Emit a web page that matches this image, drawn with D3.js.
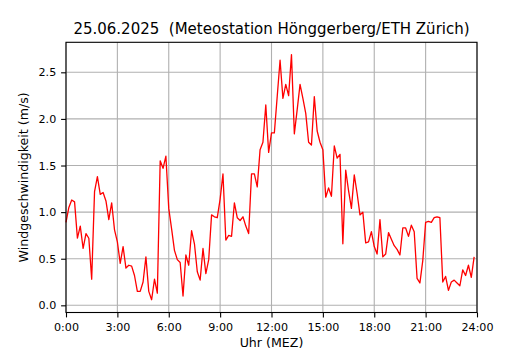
<!DOCTYPE html>
<html>
<head>
<meta charset="utf-8">
<script src="https://cdn.jsdelivr.net/npm/d3@7"></script>
<style>
  html, body { margin: 0; padding: 0; background: #fff; }
  svg { display: block; font-family: "DejaVu Sans", sans-serif; }
</style>
</head>
<body>
<svg id="chart" width="530" height="350"></svg>
<script>
// ---- Data (10-minute wind speed, m/s) ----
const titleText = "25.06.2025  (Meteostation Hönggerberg/ETH Zürich)";
const xLabel = "Uhr (MEZ)";
const yLabel = "Windgeschwindigkeit (m/s)";
const stepMinutes = 10;
const windSpeed = [
  0.89, 1.05, 1.13, 1.11, 0.72, 0.85, 0.61, 0.77, 0.72, 0.28, 1.22, 1.38,
  1.19, 1.21, 1.12, 0.92, 1.10, 0.81, 0.68, 0.45, 0.63, 0.40, 0.43, 0.42,
  0.32, 0.15, 0.15, 0.25, 0.52, 0.15, 0.06, 0.28, 0.13, 1.55, 1.47, 1.60,
  1.04, 0.82, 0.59, 0.49, 0.46, 0.10, 0.54, 0.43, 0.80, 0.66, 0.36, 0.27,
  0.61, 0.34, 0.49, 0.97, 0.95, 0.94, 1.14, 1.41, 0.70, 0.75, 0.74, 1.10,
  0.94, 0.91, 0.95, 0.85, 0.77, 1.41, 1.41, 1.27, 1.67, 1.75, 2.15, 1.64,
  1.85, 1.85, 2.24, 2.63, 2.22, 2.37, 2.25, 2.69, 1.84, 2.10, 2.37, 2.22,
  2.06, 1.75, 1.72, 2.24, 1.87, 1.75, 1.67, 1.16, 1.26, 1.17, 1.71, 1.58,
  1.62, 0.66, 1.45, 1.23, 1.04, 1.40, 1.20, 0.97, 1.00, 0.67, 0.68, 0.79,
  0.63, 0.55, 0.92, 0.52, 0.55, 0.78, 0.71, 0.64, 0.60, 0.54, 0.83, 0.83,
  0.74, 0.86, 0.79, 0.29, 0.24, 0.48, 0.89, 0.90, 0.89, 0.94, 0.95, 0.94,
  0.25, 0.31, 0.16, 0.25, 0.27, 0.24, 0.21, 0.38, 0.32, 0.43, 0.30, 0.52
];
const xTickHours = [0, 3, 6, 9, 12, 15, 18, 21, 24];
const xTickLabels = ["0:00", "3:00", "6:00", "9:00", "12:00", "15:00", "18:00", "21:00", "24:00"];
const yTicks = [0.0, 0.5, 1.0, 1.5, 2.0, 2.5];
const yDomain = [-0.077, 2.822];

// ---- Layout ----
const svg = d3.select("#chart");
const margin = { left: 66, right: 53, top: 42.3, bottom: 37.5 };
const W = 530, H = 350;
const iw = W - margin.left - margin.right;
const ih = H - margin.top - margin.bottom;

svg.append("rect").attr("width", W).attr("height", H).attr("fill", "#fff");

const g = svg.append("g").attr("transform", `translate(${margin.left},${margin.top})`);

const x = d3.scaleLinear().domain([0, 24]).range([0, iw]);
const y = d3.scaleLinear().domain(yDomain).range([ih, 0]);

const data = windSpeed.map((v, i) => ({ h: i * stepMinutes / 60, v }));

// Grid
g.append("g").selectAll("line").data(xTickHours).join("line")
  .attr("x1", d => x(d)).attr("x2", d => x(d))
  .attr("y1", 0).attr("y2", ih)
  .attr("stroke", "#b0b0b0").attr("stroke-width", 1.1);
g.append("g").selectAll("line").data(yTicks).join("line")
  .attr("x1", 0).attr("x2", iw)
  .attr("y1", d => y(d)).attr("y2", d => y(d))
  .attr("stroke", "#b0b0b0").attr("stroke-width", 1.1);

// Line
g.append("path").datum(data)
  .attr("fill", "none")
  .attr("stroke", "#ff0000")
  .attr("stroke-width", 1.3)
  .attr("stroke-linejoin", "round")
  .attr("d", d3.line().x(d => x(d.h)).y(d => y(d.v)));

// Axes
const xAxis = d3.axisBottom(x).tickValues(xTickHours)
  .tickFormat((d, i) => xTickLabels[i]).tickSize(4.9).tickPadding(5.5);
const yAxis = d3.axisLeft(y).tickValues(yTicks)
  .tickFormat(d3.format(".1f")).tickSize(4.9).tickPadding(4.9);

const gx = g.append("g").attr("transform", `translate(0,${ih})`).call(xAxis);
const gy = g.append("g").call(yAxis);
[gx, gy].forEach(a => {
  a.select(".domain").remove();
  a.selectAll(".tick line").attr("stroke", "#000").attr("stroke-width", 1.1);
  a.selectAll(".tick text").attr("fill", "#000")
    .style("font-family", "DejaVu Sans").style("font-size", "11.1px");
});

// Spines
g.append("rect").attr("x", 0).attr("y", 0).attr("width", iw).attr("height", ih)
  .attr("fill", "none").attr("stroke", "#000").attr("stroke-width", 1.1);

// Labels
svg.append("text").attr("x", margin.left + iw / 2).attr("y", 34)
  .attr("text-anchor", "middle").style("font-size", "15px").attr("fill", "#000")
  .style("white-space", "pre").attr("xml:space", "preserve")
  .text(titleText);
svg.append("text").attr("x", margin.left + iw / 2).attr("y", 346.5)
  .attr("text-anchor", "middle").style("font-size", "12.6px").attr("fill", "#000")
  .text(xLabel);
svg.append("text")
  .attr("transform", `translate(27.5,${margin.top + ih / 2}) rotate(-90)`)
  .attr("text-anchor", "middle").style("font-size", "12.6px").attr("fill", "#000")
  .text(yLabel);
</script>
</body>
</html>
